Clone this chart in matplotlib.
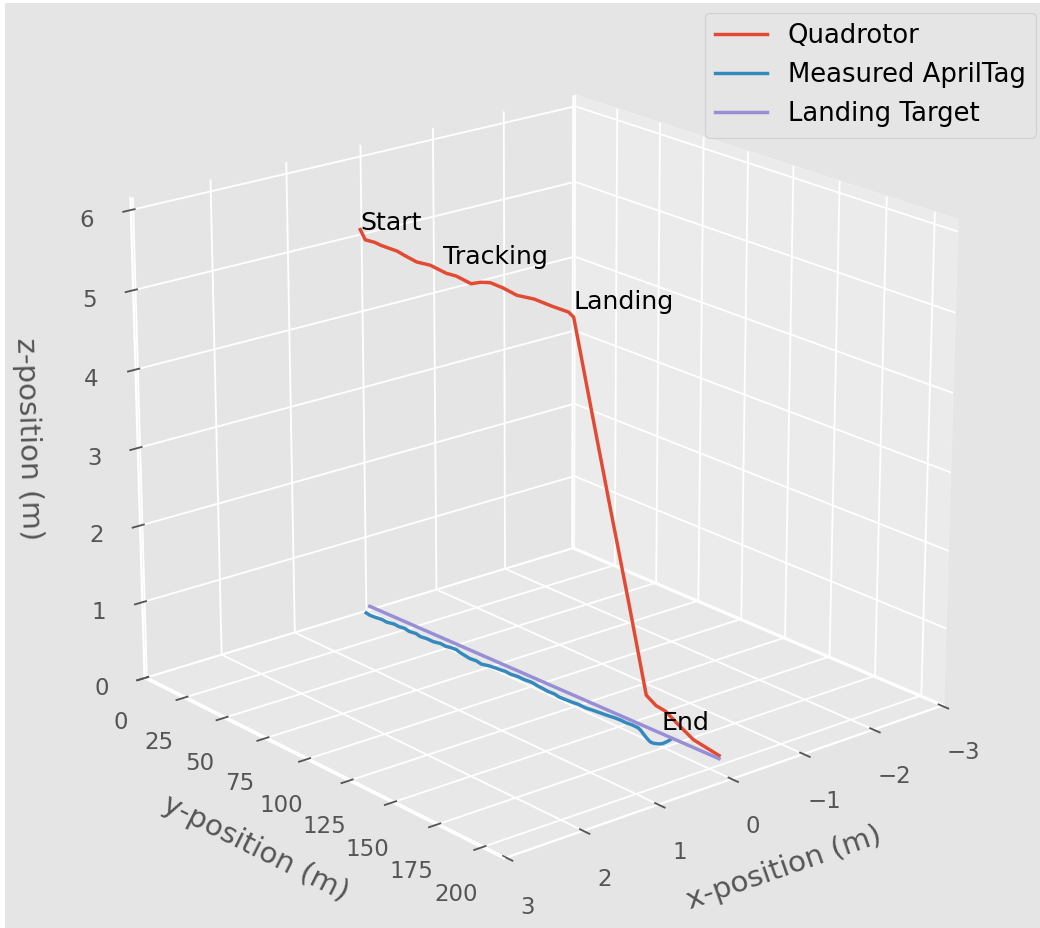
import matplotlib
matplotlib.use("Agg")
import matplotlib.pyplot as plt
from matplotlib.patches import Rectangle

plt.style.use("ggplot")

# Landing target (moving platform) path on the ground
target_x = [-0.112, -0.250]
target_y = [-2.81, 195.49]
target_z = [0.0, 0.0]

# Quadrotor flight path
quad_x = [-0.110, -0.112, -0.116, -0.119, -0.125, -0.128, -0.133, -0.139, -0.145,
          -0.149, -0.155, -0.159, -0.163, -0.168, -0.173, -0.180, -0.187, -0.193,
          -0.195, -0.202, -0.209, -0.217, -0.223, -0.227, -0.230, -0.234, -0.241,
          -0.250]
quad_y = [-5.71, -2.81, 2.85, 6.83, 16.09, 20.07, 27.44, 35.49, 44.65, 50.32,
          58.88, 64.06, 69.72, 77.19, 84.65, 94.31, 104.15, 113.21, 115.99,
          125.85, 136.40, 146.94, 156.39, 161.67, 166.94, 172.22, 181.77, 195.50]
quad_z = [4.99, 4.88, 4.89, 4.88, 4.88, 4.86, 4.83, 4.85, 4.82, 4.83, 4.80, 4.86,
          4.90, 4.89, 4.86, 4.89, 4.88, 4.88, 4.84, 3.75, 2.60, 1.46,
          0.41, 0.33, 0.31, 0.23, 0.10, 0.04]

# AprilTag position as measured by the onboard camera
tag_x = [0.040, 0.053, 0.045, 0.028, 0.036, 0.008, 0.016, -0.001, 0.017, -0.001,
         0.017, 0.000, 0.002, -0.025, -0.018, -0.039, -0.046, -0.024, -0.011,
         0.002, -0.011, 0.007, -0.026, -0.043, -0.050, -0.061, -0.054, -0.071,
         -0.069, -0.082, -0.069, -0.062, -0.054, -0.061, -0.044, -0.051, -0.058,
         -0.071, -0.069, -0.086, -0.099, -0.111, -0.129, -0.136, -0.133, -0.145,
         -0.142, -0.125, -0.105, -0.082, -0.060, -0.038, -0.018, -0.002, 0.008,
         0.004, -0.010, -0.030, -0.060, -0.110, -0.160, -0.200]
tag_y = [1.66, 4.45, 7.73, 10.91, 14.39, 17.89, 20.87, 23.86, 27.34, 30.82, 34.30,
         37.78, 41.47, 44.75, 48.23, 50.72, 53.41, 56.69, 60.17, 63.65, 67.13,
         70.72, 74.11, 77.59, 80.07, 82.17, 85.55, 89.03, 92.51, 97.09, 100.47,
         103.95, 107.43, 110.91, 114.41, 117.39, 120.87, 124.36, 128.83, 132.31,
         135.80, 139.28, 142.76, 145.85, 148.73, 151.71, 155.20, 157.00, 158.70,
         160.40, 162.20, 163.90, 165.60, 167.10, 168.50, 169.50, 170.50, 171.50,
         172.00, 171.80, 171.50, 171.00]
tag_z = [0.0] * len(tag_y)

labels = {"Start": (-0.110, -5.71, 4.99),
          "Tracking": (-0.144, 42.54, 4.92),
          "Landing": (-0.195, 115.99, 4.94),
          "End": (-0.229, 164.85, 0.05)}

DPI = 165
fig = plt.figure(figsize=(1040 / DPI, 928 / DPI), dpi=DPI, facecolor="#E5E5E5")
# thin white strips along the left and top edges
fig.patches.append(Rectangle((0, 0), 0.005, 1, transform=fig.transFigure,
                             facecolor="white", edgecolor="none", zorder=20))
fig.patches.append(Rectangle((0, 0.997), 1, 0.003, transform=fig.transFigure,
                             facecolor="white", edgecolor="none", zorder=20))

ax = fig.add_axes([0.0087, -0.003, 1.0, 1.0], projection="3d")
ax.set_facecolor("#E5E5E5")

ax.plot(quad_x, quad_y, quad_z, label="Quadrotor", lw=1.5)
ax.plot(tag_x, tag_y, tag_z, label="Measured AprilTag", lw=1.5)
ax.plot(target_x, target_y, target_z, label="Landing Target", lw=1.5)

for name, (px, py, pz) in labels.items():
    ax.text(px, py, pz, name, color="black", fontsize=11)

ax.set_xlim(-3.03, 3.03)
ax.set_ylim(0, 212)
ax.set_zlim(0, 6.15)
ax.set_xticks([-3, -2, -1, 0, 1, 2, 3])
ax.set_yticks([0, 25, 50, 75, 100, 125, 150, 175, 200])
ax.set_zticks([0, 1, 2, 3, 4, 5, 6])
ax.tick_params(labelsize=10)

ax.set_xlabel("x-position (m)", labelpad=7, fontsize=12.8)
ax.set_ylabel("y-position (m)", labelpad=7, fontsize=12.8)
ax.set_zlabel("z-position (m)", labelpad=8, fontsize=12.8)

ax.set_box_aspect((4, 4, 3.56), zoom=1.009)
ax.view_init(elev=20, azim=50)

fig.legend(loc="upper right", bbox_to_anchor=(0.996, 0.986), borderaxespad=0,
           fontsize=11.3)

fig.savefig("out.png", dpi=DPI, facecolor=fig.get_facecolor())
